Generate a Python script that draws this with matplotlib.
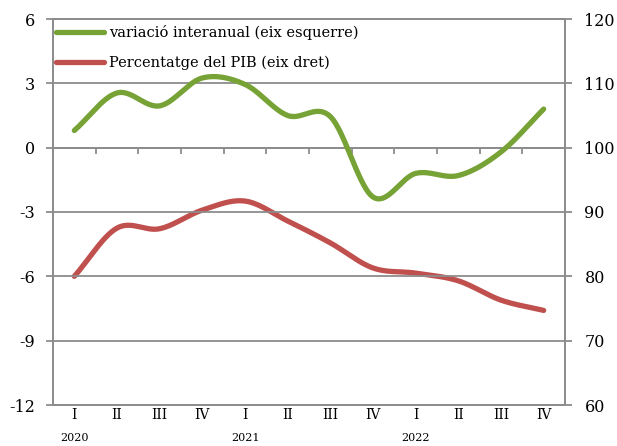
import numpy as np
import matplotlib
matplotlib.use("Agg")
import matplotlib.pyplot as plt

plt.rcParams["axes.unicode_minus"] = False

quarters = ["I", "II", "III", "IV"] * 3
years = ["2020", "2021", "2022"]
variacio = [0.8, 2.55, 1.95, 3.25, 2.95, 1.5, 1.45, -2.3, -1.2, -1.3, -0.2, 1.8]
pib = [80.0, 87.5, 87.4, 90.3, 91.7, 88.6, 85.2, 81.3, 80.5, 79.3, 76.3, 74.7]
label_var = "variació interanual (eix esquerre)"
label_pib = "Percentatge del PIB (eix dret)"

GREEN = "#77A236"
RED = "#C0504D"
GRID = "#8C8C8C"
FONT = "DejaVu Serif"


def smooth(y, n=30):
    """Catmull-Rom spline through the points (like Excel's smoothed line)."""
    y = np.asarray(y, dtype=float)
    x = np.arange(len(y), dtype=float)
    px = np.concatenate([[2 * x[0] - x[1]], x, [2 * x[-1] - x[-2]]])
    py = np.concatenate([[2 * y[0] - y[1]], y, [2 * y[-1] - y[-2]]])
    xs, ys = [], []
    for i in range(1, len(px) - 2):
        t = np.linspace(0, 1, n, endpoint=(i == len(px) - 3))
        for arr, out in ((px, xs), (py, ys)):
            p0, p1, p2, p3 = arr[i - 1], arr[i], arr[i + 1], arr[i + 2]
            out.append(0.5 * ((2 * p1) + (-p0 + p2) * t +
                              (2 * p0 - 5 * p1 + 4 * p2 - p3) * t ** 2 +
                              (-p0 + 3 * p1 - 3 * p2 + p3) * t ** 3))
    return np.concatenate(xs), np.concatenate(ys)


fig = plt.figure(figsize=(6.17, 4.46), dpi=100)
ax = fig.add_axes([53 / 617, 41 / 446, 512 / 617, 386 / 446])
ax2 = ax.twinx()

n = len(variacio)
ax.set_xlim(-0.5, n - 0.5)
ax.set_ylim(-12, 6)
ax2.set_ylim(60, 120)

ax.set_yticks(np.arange(-12, 7, 3))
ax2.set_yticks(np.arange(60, 121, 10))
ax.yaxis.grid(True, color=GRID, linewidth=1.3)
ax.set_axisbelow(True)

for a in (ax, ax2):
    for s in a.spines.values():
        s.set_color(GRID)
        s.set_linewidth(1.3)
    a.tick_params(axis="y", colors=GRID, length=5, width=1.3, labelcolor="black",
                  labelsize=11.5)
ax.tick_params(axis="y", pad=8)
ax2.tick_params(axis="y", pad=9)
for lab in ax.get_yticklabels() + ax2.get_yticklabels():
    lab.set_fontfamily(FONT)

# category axis: quarter labels at bottom, no ticks
ax.set_xticks(range(n))
ax.set_xticklabels(quarters, fontfamily=FONT, fontsize=10)
ax.tick_params(axis="x", length=0, pad=2)
for i, yr in enumerate(years):
    ax.text(i * 4, -0.085, yr, transform=ax.get_xaxis_transform(), ha="center",
            va="center", fontsize=8, fontfamily=FONT)

# axis line crossing at zero with boundary ticks
frac0 = (0 - ax.get_ylim()[0]) / (ax.get_ylim()[1] - ax.get_ylim()[0])
sec = ax.secondary_xaxis(frac0)
for s in sec.spines.values():
    s.set_color(GRID)
    s.set_linewidth(1.3)
sec.set_xticks(np.arange(0.5, n - 0.5, 1))
sec.xaxis.set_ticks_position("bottom")
sec.tick_params(axis="x", direction="out", length=4, width=1.3, colors=GRID,
                labelbottom=False, labeltop=False)

xg, yg = smooth(variacio)
xr, yr = smooth(pib)
lg, = ax.plot(xg, yg, color=GREEN, linewidth=3.8, solid_capstyle="round",
              label=label_var, zorder=4)
lr, = ax2.plot(xr, yr, color=RED, linewidth=3.8, solid_capstyle="round",
               label=label_pib, zorder=4)

leg = ax.legend(handles=[lg, lr], loc="upper left", frameon=False,
                prop={"family": FONT, "size": 10.5}, handlelength=3.3,
                handletextpad=0.3, labelspacing=1.1,
                bbox_to_anchor=(-0.005, 1.0), borderaxespad=0.0)
ax.set_zorder(ax2.get_zorder() + 1)
ax.patch.set_visible(False)

fig.savefig("out.png", dpi=100)
